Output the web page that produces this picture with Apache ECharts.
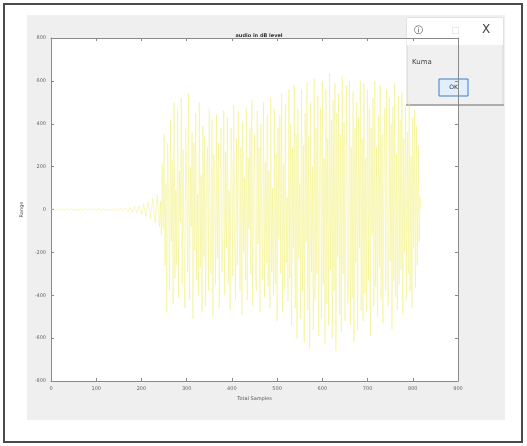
<!DOCTYPE html>
<html>
<head>
<meta charset="utf-8">
<script src="https://cdn.jsdelivr.net/npm/echarts@6/dist/echarts.min.js"></script>
<style>
  html, body { margin: 0; padding: 0; background: #fff; }
  #chart { width: 527px; height: 446px; }
</style>
</head>
<body>
<div id="chart"></div>
<script>
// Quiet lead-in: one value every 5 samples, starting at sample 0
const quietStart = 0;
const quietStep = 5;
const quietValues = [
  0, 3, -4, 4, -3, 4, -4, 3, -3, 4, -4, 3, -4, 4, -3, 4, -4, 3, -3, 4, -4, 4, -5, 4, -4,
  5, -5, 4, -5, 5, -6, 6, -7, 8, -9, 10, -12, 14, -16, 19, -22, 26, -30, 36, -42, 50, -60, 70, -80
];

// Loud section: one value every 2 samples, starting at sample 242
const loudStart = 242;
const loudStep = 2;
const loudValues = [
  40, -120, 210, -90, 350, -260, 120, -480, 310, 60, -380, 420, -150, 230, -440, 500, -320, 90, -260, 470, -410, 180, -60, 520,
  -350, 280, -150, -460, 380, 120, -290, 540, -420, 200, -80, 360, -510, 310, -190, 450, -330, 70, -400, 500, -270, 160, -480, 390,
  -220, 340, -450, 120, 290, -380, 470, -160, -300, 420, -500, 260, 80, -350, 440, -230, 310, -460, 150, 380, -290, -120, 460, -400,
  270, -180, 430, -350, 90, -470, 380, 210, -310, 490, -140, -420, 330, -260, 460, 40, -380, 290, -490, 410, -200, 150, -330, 470,
  -420, 240, -90, 380, -300, 510, -450, 130, 350, -270, -380, 460, -160, 290, -480, 400, -60, -330, 500, -410, 220, -250, 440, -360,
  180, -460, 520, -290, 100, -400, 470, -350, 260, -520, 380, -140, 440, -300, 540, -480, 210, -370, 490, -250, 60, -430, 560, -320,
  400, -540, 290, -180, 580, -460, 350, -600, 470, -230, 120, -510, 560, -380, 300, -620, 450, -150, 590, -470, 340, -650, 500, -290,
  200, -560, 610, -420, 380, -300, 530, -590, 160, 470, -510, 600, -350, 240, -630, 560, -440, 330, -540, 637, -280, 420, -600, 510,
  -380, 590, -660, 450, -220, 540, -490, 350, -570, 620, -300, 410, -520, 160, 580, -440, -360, 600, -540, 290, -410, 550, -620, 380,
  -250, 500, -560, 430, -180, 600, -470, 330, -520, 590, -390, 240, -480, 560, -330, 470, -590, 380, -120, 520, -450, 600, -360, 290,
  -500, 440, -270, 580, -420, 350, -530, 190, 470, -380, 560, -310, -450, 520, -240, 400, -560, 480, -330, 590, -410, 260, -470, 530,
  -350, 420, -280, 550, -490, 330, -200, 480, -420, 360, -300, 500, -380, 250, -460, 430, -180, 465, -363, 390, -260, 300, -150, 60,
  0
];

const xTicks = [0, 100, 200, 300, 400, 500, 600, 700, 800, 900];
const yTicks = [-800, -600, -400, -200, 0, 200, 400, 600, 800];

const titleText = 'audio in dB level';
const xName = 'Total Samples';
const yName = 'Range';

const points = [];
quietValues.forEach((v, i) => points.push([quietStart + i * quietStep, v]));
loudValues.forEach((v, i) => points.push([loudStart + i * loudStep, v]));

const chart = echarts.init(document.getElementById('chart'), null, { renderer: 'canvas' });

const axisCommon = {
  type: 'value',
  axisLine: { show: true, onZero: false, lineStyle: { color: '#8a8a8a', width: 1 } },
  axisTick: { show: true, inside: true, length: 3, lineStyle: { color: '#8a8a8a' } },
  splitLine: { show: false }
};

chart.setOption({
  animation: false,
  backgroundColor: '#ffffff',
  graphic: [
    { type: 'rect', z: -10, shape: { x: 4, y: 4, width: 518, height: 438 },
      style: { fill: '#ffffff', stroke: '#4a4a4a', lineWidth: 2 } },
    { type: 'rect', z: -9, shape: { x: 27, y: 15, width: 478, height: 405 },
      style: { fill: '#efefef' } },
    { type: 'rect', z: -8, shape: { x: 51, y: 38, width: 407, height: 343 },
      style: { fill: '#ffffff' } },
    // message box
    { type: 'group', z: 100, children: [
      { type: 'rect', shape: { x: 407, y: 18, width: 96, height: 87 },
        style: { fill: '#f0f0f0', stroke: '#d4d4d4', lineWidth: 1 } },
      { type: 'rect', shape: { x: 407, y: 18, width: 96, height: 27 },
        style: { fill: '#ffffff' } },
      { type: 'line', shape: { x1: 406, y1: 105, x2: 504, y2: 105 },
        style: { stroke: '#9a9a9a', lineWidth: 1.5 } },
      { type: 'text', style: { x: 414, y: 26, text: 'ⓘ', font: '9px "DejaVu Sans"', fill: '#444' } },
      { type: 'text', style: { x: 451, y: 26, text: '□', font: '9px "DejaVu Sans"', fill: '#dadada' } },
      { type: 'text', style: { x: 482, y: 24, text: 'X', font: '12px "DejaVu Sans"', fill: '#444' } },
      { type: 'text', style: { x: 412, y: 59, text: 'Kuma', font: '7px "DejaVu Sans"', fill: '#444' } },
      { type: 'rect', shape: { x: 439, y: 79, width: 29, height: 17 },
        style: { fill: '#e1eefb', stroke: '#3c7fc8', lineWidth: 1 } },
      { type: 'text', style: { x: 453.5, y: 87.5, text: 'OK', align: 'center', verticalAlign: 'middle', font: '6px "DejaVu Sans"', fill: '#333' } }
    ] }
  ],
  title: {
    text: titleText,
    left: 254, top: 28, textAlign: 'center',
    textStyle: { fontSize: 5, fontWeight: 'bold', color: '#333', fontFamily: 'DejaVu Sans' }
  },
  grid: { left: 51, right: 69, top: 38, bottom: 65, show: false },
  xAxis: [
    Object.assign({}, axisCommon, {
      min: 0, max: 900, interval: 100, position: 'bottom',
      name: xName, nameLocation: 'middle', nameGap: 12,
      nameTextStyle: { fontSize: 5, color: '#555', fontFamily: 'DejaVu Sans' },
      axisLabel: { fontSize: 5, color: '#666', margin: 5, fontFamily: 'DejaVu Sans',
        formatter: v => (xTicks.indexOf(v) >= 0 ? String(v) : '') }
    }),
    Object.assign({}, axisCommon, {
      min: 0, max: 900, interval: 100, position: 'top', axisLabel: { show: false }
    })
  ],
  yAxis: [
    Object.assign({}, axisCommon, {
      min: -800, max: 800, interval: 200, position: 'left',
      name: yName, nameLocation: 'middle', nameGap: 18,
      nameTextStyle: { fontSize: 5, color: '#555', fontFamily: 'DejaVu Sans' },
      axisLabel: { fontSize: 5, color: '#666', margin: 5, fontFamily: 'DejaVu Sans',
        formatter: v => (yTicks.indexOf(v) >= 0 ? String(v) : '') }
    }),
    Object.assign({}, axisCommon, {
      min: -800, max: 800, interval: 200, position: 'right', axisLabel: { show: false }
    })
  ],
  series: [{
    type: 'line',
    data: points,
    showSymbol: false,
    symbol: 'none',
    lineStyle: { color: 'rgba(240,238,100,0.42)', width: 1 },
    z: 2
  }]
});
</script>
</body>
</html>
